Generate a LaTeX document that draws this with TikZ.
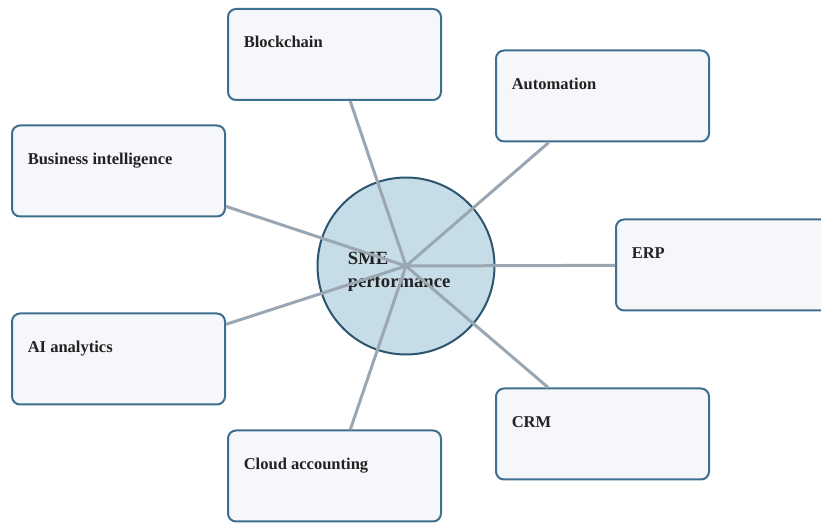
\documentclass[tikz,border=0pt]{standalone}
\usepackage{fontspec}
\setmainfont{Liberation Serif}
\usetikzlibrary{positioning}

\definecolor{fondboite}{HTML}{F5F7FA}
\definecolor{bordboite}{HTML}{3E6F8E}
\definecolor{fondcentre}{HTML}{C6DDE7}
\definecolor{bordcentre}{HTML}{2C5670}
\definecolor{rayongris}{HTML}{9AA7B3}
\definecolor{encre}{HTML}{222222}

\begin{document}
\begin{tikzpicture}[
  x=0.75pt, y=-0.75pt,
  font=\bfseries,
  volet/.style={
    draw=bordboite,
    line width=1.5pt,
    rounded corners=6pt,
    fill=fondboite,
    minimum width=159.75pt,
    minimum height=68.25pt,
    inner sep=0pt
  },
  volettexte/.style={
    font=\bfseries\fontsize{12.4}{14}\selectfont,
    text=encre,
    inner sep=0pt
  },
  centre/.style={
    circle,
    draw=bordcentre,
    line width=1.5pt,
    fill=fondcentre,
    minimum size=132.75pt,
    inner sep=0pt
  },
  centretexte/.style={
    font=\bfseries\fontsize{14}{17}\selectfont,
    text=encre,
    align=left,
    inner sep=0pt
  },
  rayon/.style={
    draw=rayongris,
    line width=2.25pt
  }
]
  \useasboundingbox (0,0) rectangle (821,523);

  % Noeud central
  \node[centre] (hub) at (406,266) {};
  \node[centretexte, anchor=west] (hubtexte) at (347.5,272) {SME\\performance};

  % Boites autour
  \foreach \nom/\cx/\cy/\texte in {
      chaine/334.5/54.5/Blockchain,
      auto/602.5/96/Automation,
      bi/118.5/171/Business intelligence,
      erp/722.5/265/ERP,
      ia/118.5/359/AI analytics,
      crm/602.5/434/CRM,
      cloud/334.5/476/Cloud accounting} {
    \node[volet] (\nom) at (\cx,\cy) {};
    \node[volettexte, anchor=base west] (\nom-t) at ([shift={(16.5,40)}]\nom.north west) {\texte};
  }

  % Rayons
  \foreach \nom in {chaine, auto, bi, erp, ia, crm, cloud}
    \draw[rayon] (hub.center) -- (\nom);
\end{tikzpicture}
\end{document}
